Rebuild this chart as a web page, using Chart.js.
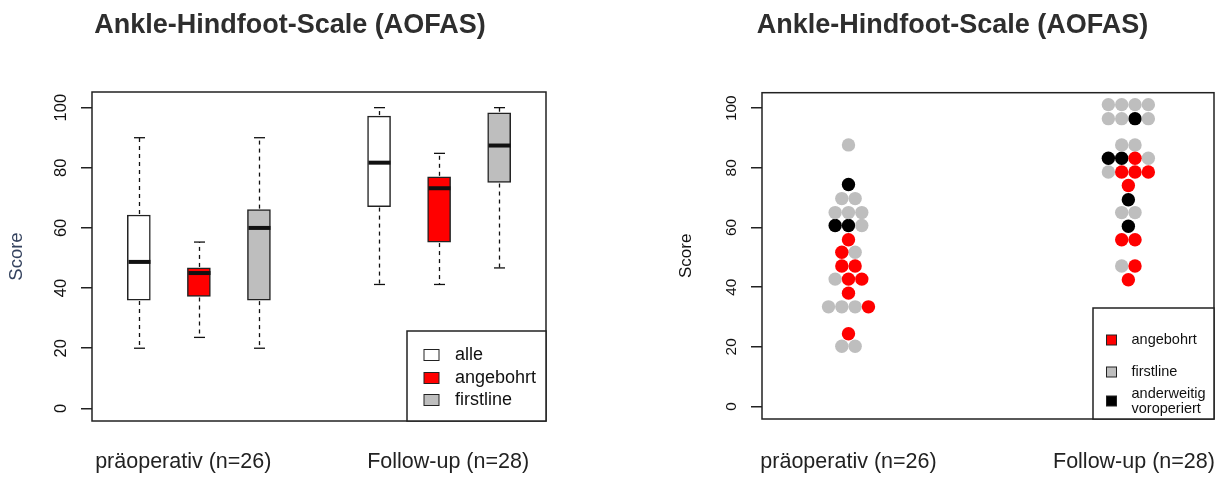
<!DOCTYPE html>
<html>
<head>
<meta charset="utf-8">
<script src="https://cdn.jsdelivr.net/npm/chart.js@4.4.1/dist/chart.umd.min.js"></script>
<style>
  html, body { margin: 0; padding: 0; background: #fff; overflow: hidden; width: 1218px; height: 477px; }
  .wrap { position: absolute; top: 0; height: 477px; }
  #left { left: 0; width: 580px; }
  #right { left: 650px; width: 605px; }
</style>
</head>
<body>
<div class="wrap" id="left"><canvas id="boxChart"></canvas></div>
<div class="wrap" id="right"><canvas id="dotChart"></canvas></div>
<script>
// shared axis
const yTicks = [0, 20, 40, 60, 80, 100]
const yMin = -4.2
const yMax = 105.2
const timeLabels = ["präoperativ (n=26)", "Follow-up (n=28)"]

// boxplot (left)
const boxGroups = ["alle", "angebohrt", "firstline"]
const boxColors = ["#ffffff", "#ff0000", "#bebebe"]
const preLow = [20, 23.6, 20]
const preQ1 = [36, 37.2, 36]
const preMedian = [48.7, 45, 60]
const preQ3 = [64.3, 46.7, 66.1]
const preHigh = [90, 55.3, 90]
const fuLow = [41.2, 41.2, 46.7]
const fuQ1 = [67.1, 55.3, 75.1]
const fuMedian = [81.7, 73.2, 87.4]
const fuQ3 = [97.2, 77, 98.3]
const fuHigh = [100, 84.8, 100]
const boxLabelAt = [1.74, 6.15]

// dot plot (right) - A = angebohrt, F = firstline, V = anderweitig voroperiert
const dotKeys = ["A", "F", "V"]
const dotLegend = ["angebohrt", "firstline", ["anderweitig", "voroperiert"]]
const dotColors = ["#ff0000", "#bebebe", "#000000"]
const preScore = [20.2, 20.2, 24.4, 33.4, 33.4, 33.4, 33.4, 38.0, 42.7, 42.7, 42.7, 47.1, 47.1,
  51.7, 51.7, 55.9, 60.7, 60.7, 60.7, 65.0, 65.0, 65.0, 69.7, 69.7, 74.4, 87.7]
const preGroup = ["F", "F", "A", "F", "F", "F", "A", "A", "F", "A", "A", "A", "A",
  "A", "F", "A", "V", "V", "F", "F", "F", "F", "F", "F", "V", "F"]
const fuScore = [42.5, 47.1, 47.1, 55.9, 55.9, 60.4, 65.0, 65.0, 69.3, 74.1,
  78.6, 78.6, 78.6, 78.6, 83.2, 83.2, 83.2, 83.2, 87.7, 87.7,
  96.5, 96.5, 96.5, 96.5, 101.2, 101.2, 101.2, 101.2]
const fuGroup = ["A", "F", "A", "A", "A", "V", "F", "F", "V", "A",
  "F", "A", "A", "A", "V", "V", "A", "F", "F", "F",
  "F", "F", "V", "F", "F", "F", "F", "F"]
const dotLabelAt = [1.0, 2.02]
const dotStep = 0.0476

const FONT = "'Liberation Sans', Arial, sans-serif"
Chart.defaults.font.family = FONT
Chart.defaults.animation = false

// draws the box round the plot region
const framePlugin = {
  id: "frame",
  afterDraw(chart) {
    const a = chart.chartArea
    const ctx = chart.ctx
    ctx.save()
    ctx.strokeStyle = "#222"
    ctx.lineWidth = 1.5
    ctx.strokeRect(a.left, a.top, a.right - a.left, a.bottom - a.top)
    ctx.restore()
  }
}

// R style legend in the bottom right corner of the plot
const boxLegend = {
  id: "boxLegend",
  afterDraw(chart, args, opts) {
    if (!opts.labels) return
    const a = chart.chartArea
    const ctx = chart.ctx
    const x0 = a.right - opts.width
    const y0 = a.bottom - opts.height
    ctx.save()
    ctx.fillStyle = "#fff"
    ctx.fillRect(x0, y0, opts.width, opts.height)
    ctx.strokeStyle = "#222"
    ctx.lineWidth = 1.5
    ctx.strokeRect(x0, y0, opts.width, opts.height)
    ctx.font = opts.font
    ctx.textBaseline = "middle"
    ctx.textAlign = "left"
    opts.labels.forEach((label, i) => {
      const cy = y0 + opts.rows[i]
      ctx.fillStyle = opts.colors[i]
      ctx.fillRect(x0 + opts.boxX, cy - opts.boxH / 2, opts.boxW, opts.boxH)
      ctx.strokeStyle = "#222"
      ctx.lineWidth = 1
      ctx.strokeRect(x0 + opts.boxX, cy - opts.boxH / 2, opts.boxW, opts.boxH)
      ctx.fillStyle = "#111"
      const lines = [].concat(label)
      lines.forEach((t, j) => {
        ctx.fillText(t, x0 + opts.textX, cy + (j - (lines.length - 1) / 2) * opts.lineH)
      })
    })
    ctx.restore()
  }
}

// whiskers, caps and medians of the boxplot
const whiskerPlugin = {
  id: "whiskers",
  afterDatasetsDraw(chart) {
    const xs = chart.scales.x
    const ys = chart.scales.y
    const ctx = chart.ctx
    const stats = [
      [preLow, preQ1, preMedian, preQ3, preHigh],
      [fuLow, fuQ1, fuMedian, fuQ3, fuHigh]
    ]
    const seg = (x1, y1, x2, y2) => {
      ctx.beginPath()
      ctx.moveTo(x1, y1)
      ctx.lineTo(x2, y2)
      ctx.stroke()
    }
    ctx.save()
    ctx.strokeStyle = "#111"
    stats.forEach((st, t) => {
      boxGroups.forEach((g, i) => {
        const px = Math.round(xs.getPixelForValue(t * 4 + i + 1)) + 0.5
        const yLow = ys.getPixelForValue(st[0][i])
        const yQ1 = ys.getPixelForValue(st[1][i])
        const yMed = ys.getPixelForValue(st[2][i])
        const yQ3 = ys.getPixelForValue(st[3][i])
        const yHigh = ys.getPixelForValue(st[4][i])
        ctx.lineWidth = 1.3
        ctx.setLineDash([4, 4])
        seg(px, yQ1 + 1, px, yLow)
        seg(px, yQ3 - 1, px, yHigh)
        ctx.setLineDash([])
        seg(px - 5.5, yLow, px + 5.5, yLow)
        seg(px - 5.5, yHigh, px + 5.5, yHigh)
        ctx.lineWidth = 4
        seg(px - 11, yMed, px + 11, yMed)
      })
    })
    ctx.restore()
  }
}

function scoreAxis(fontSize, axisWidth, tickPad, titleColor, titleSize, titlePad) {
  return {
    min: yMin,
    max: yMax,
    afterBuildTicks: (axis) => { axis.ticks = yTicks.map(v => ({ value: v })) },
    afterFit: (axis) => { axis.width = axisWidth },
    border: { display: false },
    grid: { drawOnChartArea: false, drawTicks: true, tickLength: 11, color: "#222", lineWidth: 1.5 },
    ticks: {
      minRotation: 90, maxRotation: 90, crossAlign: "center", padding: tickPad,
      color: "#111", font: { size: fontSize }
    },
    title: {
      display: true, text: "Score", color: titleColor,
      font: { size: titleSize }, padding: { top: titlePad, bottom: 0 }
    }
  }
}

function timeAxis(min, max, at, height, pad) {
  return {
    type: "linear",
    min: min,
    max: max,
    offset: false,
    afterBuildTicks: (axis) => { axis.ticks = at.map(v => ({ value: v })) },
    afterFit: (axis) => { axis.height = height },
    grid: { display: false, drawTicks: false },
    border: { display: false },
    ticks: {
      callback: (v, i) => timeLabels[i], padding: pad, maxRotation: 0, autoSkip: false,
      color: "#222", font: { size: 21.5 }
    }
  }
}

function spacer(width) {
  return {
    position: "right",
    afterFit: (axis) => { axis.width = width },
    ticks: { display: false },
    grid: { display: false, drawTicks: false },
    border: { display: false }
  }
}

function titleOpts(bottom) {
  return {
    display: true,
    text: "Ankle-Hindfoot-Scale (AOFAS)",
    color: "#2e2e2e",
    font: { size: 27, weight: "bold" },
    padding: { top: 9, bottom: bottom }
  }
}

// Boxplot chart
new Chart(document.getElementById("boxChart"), {
  type: "bar",
  data: {
    datasets: boxGroups.map((g, i) => ({
      label: g,
      data: [
        { x: i + 1, y: [preQ1[i], preQ3[i]] },
        { x: i + 5, y: [fuQ1[i], fuQ3[i]] }
      ],
      backgroundColor: boxColors[i],
      borderColor: "#222",
      borderWidth: 1.5,
      borderSkipped: false,
      barThickness: 23,
      grouped: false
    }))
  },
  options: {
    responsive: true,
    maintainAspectRatio: false,
    layout: { padding: 0 },
    scales: {
      x: timeAxis(0.22, 7.78, boxLabelAt, 56, 28),
      y: scoreAxis(16.5, 92, 5.7, "#34425e", 18.5, 5.9),
      yR: spacer(34)
    },
    plugins: {
      title: titleOpts(50.6),
      legend: { display: false },
      tooltip: { enabled: false },
      boxLegend: {
        labels: boxGroups, colors: boxColors, width: 139, height: 90,
        rows: [24, 47, 69], boxX: 17, boxW: 15, boxH: 11, textX: 48,
        lineH: 18, font: "18px " + FONT
      }
    }
  },
  plugins: [whiskerPlugin, framePlugin, boxLegend]
})

// Dot plot chart
function swarm(scores, groups, center, into) {
  const rowCount = {}
  const rowSeen = {}
  scores.forEach(s => { rowCount[s] = (rowCount[s] || 0) + 1 })
  scores.forEach((s, i) => {
    const k = rowSeen[s] = (rowSeen[s] || 0) + 1
    const off = (k - 1 - (rowCount[s] - 1) / 2) * dotStep
    into[dotKeys.indexOf(groups[i])].push({ x: center + off, y: s })
  })
}
const dotData = dotKeys.map(() => [])
swarm(preScore, preGroup, 1, dotData)
swarm(fuScore, fuGroup, 2, dotData)

new Chart(document.getElementById("dotChart"), {
  type: "scatter",
  data: {
    datasets: dotKeys.map((k, i) => ({
      label: [].concat(dotLegend[i]).join(" "),
      data: dotData[i],
      backgroundColor: dotColors[i],
      pointRadius: 6.7,
      pointBorderWidth: 0,
      pointHoverRadius: 6.7
    }))
  },
  options: {
    responsive: true,
    maintainAspectRatio: false,
    layout: { padding: 0 },
    scales: {
      x: timeAxis(0.691, 2.306, dotLabelAt, 58, 30),
      y: scoreAxis(15.4, 112, 6.5, "#111", 17, 26.5),
      yR: spacer(41)
    },
    plugins: {
      title: titleOpts(51.3),
      legend: { display: false },
      tooltip: { enabled: false },
      boxLegend: {
        labels: dotLegend, colors: dotColors, width: 121, height: 111,
        rows: [32, 64, 93], boxX: 13.5, boxW: 10, boxH: 10, textX: 38.5,
        lineH: 15, font: "14.5px " + FONT
      }
    }
  },
  plugins: [framePlugin, boxLegend]
})
</script>
</body>
</html>
